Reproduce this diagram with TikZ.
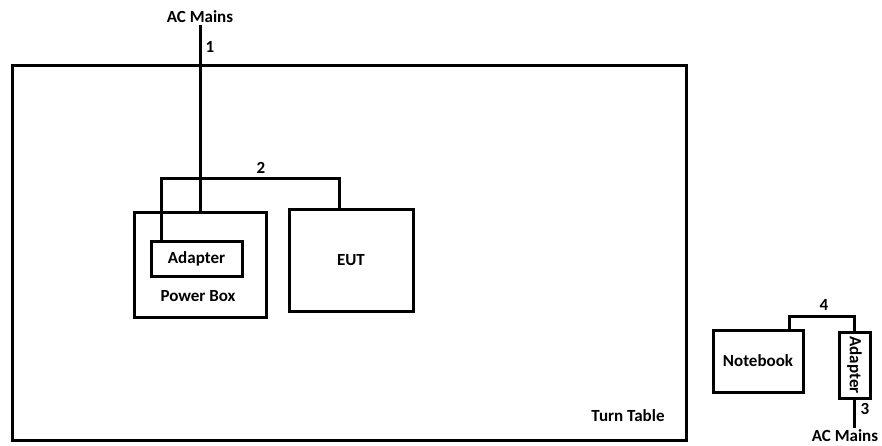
\documentclass[tikz,border=0pt]{standalone}
\usepackage{fontspec}
\setmainfont{Carlito}
\tikzset{
  unitbox/.style={draw, line width=3pt, rectangle, inner sep=0pt},
  cable/.style={line width=3pt},
  lbl/.style={font=\fontsize{17}{19}\selectfont\bfseries, inner sep=2pt}
}
\begin{document}
\begin{tikzpicture}[x=1pt,y=-1pt]
            \useasboundingbox (0,0) rectangle (882,445);

            % turn table and the units on it
            \node[unitbox, minimum width=674pt, minimum height=375pt] (table) at (349,252.5) {};
            \node[unitbox, minimum width=132pt, minimum height=105pt] (powerbox) at (200,264.5) {};
            \node[unitbox, lbl, inner sep=0pt, minimum width=91pt, minimum height=35pt] (adapterA) at (196.5,258.5) {Adapter};
            \node[unitbox, lbl, inner sep=0pt, minimum width=124pt, minimum height=102pt] (eut) at (351,260) {EUT};

            \node[lbl] (pwrlabel) at (198,296) {Power Box};
            \node[lbl] (tablelabel) at (628,416) {Turn Table};

            % support units outside
            \node[unitbox, lbl, inner sep=0pt, minimum width=90pt, minimum height=62pt] (notebook) at (758,361) {Notebook};
            \node[unitbox, lbl, inner sep=0pt, minimum width=66pt, minimum height=31pt, rotate=-90] (adapterB) at (854.5,365) {Adapter};

            \node[lbl] (mainsA) at (200,17) {AC Mains};
            \node[lbl] (mainsB) at (845,436) {AC Mains};

            % cables
            \coordinate (top2) at (250,178);
            \coordinate (top4) at (820,316);

            \draw[cable] (mainsA.south) -- (powerbox.north);
            \draw[cable] ([xshift=12pt]adapterA.north west) |- (top2) -| ([xshift=-12pt]eut.north);
            \draw[cable] ([xshift=31pt]notebook.north) |- (top4) -| (adapterB.west);
            \draw[cable] (adapterB.east) -- (mainsB.north -| adapterB.east);

            \node[lbl] (n1) at (210,47) {1};
            \node[lbl] (n2) at (261,168) {2};
            \node[lbl] (n3) at (865,409) {3};
            \node[lbl] (n4) at (824,305) {4};
        \end{tikzpicture}
\end{document}
